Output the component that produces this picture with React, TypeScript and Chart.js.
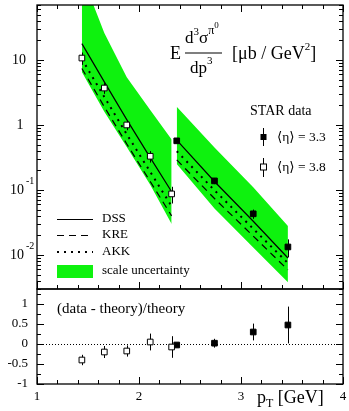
import React, { useEffect, useRef } from 'react';
import { Chart, registerables } from 'chart.js';

Chart.register(...registerables);

// ---------------- data ----------------
const pt38 = [1.44, 1.66, 1.88, 2.11, 2.32];
const pt33 = [2.37, 2.74, 3.12, 3.46];

const xsec38 = [10.7, 3.7, 1.0, 0.33, 0.087];
const xerr38 = [2.3, 0.69, 0.17, 0.066, 0.025];
const xsec33 = [0.57, 0.138, 0.043, 0.0133];
const xerr33 = [0.03, 0.015, 0.007, 0.0041];

const dss38 = [17.8, 4.6, 1.21, 0.314, 0.094];
const kre38 = [7.4, 1.9, 0.51, 0.135, 0.04];
const akk38 = [10.3, 2.7, 0.72, 0.19, 0.056];
const dss33 = [0.585, 0.135, 0.033, 0.009];
const kre33 = [0.29, 0.074, 0.0195, 0.0059];
const akk33 = [0.395, 0.099, 0.0253, 0.0075];

const bandHi38 = [200, 26, 5.4, 1.7, 0.6];
const bandLo38 = [6.5, 1.6, 0.46, 0.12, 0.03];
const bandHi33 = [1.9, 0.45, 0.11, 0.028];
const bandLo33 = [0.25, 0.052, 0.013, 0.0038];

const ratio38 = [-0.4, -0.2, -0.175, 0.05, -0.075];
const ratioErr38 = [0.13, 0.15, 0.14, 0.21, 0.27];
const ratio33 = [-0.025, 0.02, 0.3, 0.475];
const ratioErr33 = [0.05, 0.11, 0.21, 0.46];

const xTickValues = [1, 2, 3, 4];
const xTickLabels = ['1', '2', '3', '4'];
const yTopTickValues = [0.01, 0.1, 1, 10];
const yTopTickLabels = [['10', '-2'], ['10', '-1'], ['1', ''], ['10', '']];
const yRatioTickValues = [-1, -0.5, 0, 0.5, 1];
const yRatioTickLabels = ['-1', '-0.5', '0', '0.5', '1'];

const legendNames = ['DSS', 'KRE', 'AKK', 'scale uncertainty'];
const starLabels = ['\u27E8\u03B7\u27E9 = 3.3', '\u27E8\u03B7\u27E9 = 3.8'];

// ---------------- style ----------------
const W = 349;
const H = 411;
const SERIF = '"Liberation Serif", "DejaVu Serif", "Times New Roman", serif';
const GREEN = 'rgb(14,242,14)';
const DASH = [7, 5];
const DOT = [2, 5];

const pts = (xs: number[], ys: number[]) => xs.map((x, i) => ({ x, y: ys[i] }));

function font(px: number) {
  return `${px}px ${SERIF}`;
}

function drawErrorBars(chart: any, args: any) {
  const ds: any = chart.data.datasets[args.index];
  if (!ds.errors) return;
  const ctx = chart.ctx;
  const y = chart.scales.y;
  ctx.save();
  ctx.strokeStyle = '#000';
  ctx.lineWidth = 1;
  ds.data.forEach((p: any, i: number) => {
    const e = ds.errors[i];
    const el = args.meta.data[i];
    const px = Math.round(el.x) + 0.5;
    ctx.beginPath();
    ctx.moveTo(px, y.getPixelForValue(p.y + e));
    ctx.lineTo(px, y.getPixelForValue(p.y - e));
    ctx.stroke();
  });
  ctx.restore();
}

function tickLine(ctx: CanvasRenderingContext2D, x1: number, y1: number, x2: number, y2: number) {
  ctx.beginPath();
  ctx.moveTo(x1, y1);
  ctx.lineTo(x2, y2);
  ctx.stroke();
}

function drawXTicks(ctx: CanvasRenderingContext2D, chart: any, top: boolean) {
  const a = chart.chartArea;
  const x = chart.scales.x;
  for (let k = 0; k <= 15; k++) {
    const v = 1 + k * 0.2;
    const major = k % 5 === 0;
    const len = major ? 7 : 4;
    const px = Math.round(x.getPixelForValue(v)) + 0.5;
    tickLine(ctx, px, a.bottom, px, a.bottom - len);
    if (top) tickLine(ctx, px, a.top, px, a.top + len);
  }
}

function drawFrame(ctx: CanvasRenderingContext2D, chart: any) {
  const a = chart.chartArea;
  ctx.lineWidth = 1.3;
  ctx.strokeRect(a.left, a.top, a.right - a.left, a.bottom - a.top);
  ctx.lineWidth = 1;
}

function textSeq(ctx: CanvasRenderingContext2D, x: number, y: number, parts: [string, number, number][]) {
  let cx = x;
  for (const [t, size, dy] of parts) {
    ctx.font = font(size);
    ctx.fillText(t, cx, y + dy);
    cx += ctx.measureText(t).width;
  }
  return cx;
}

const topDecor = {
  id: 'topDecor',
  beforeDatasetDraw: drawErrorBars,
  afterDraw(chart: any) {
    const ctx: CanvasRenderingContext2D = chart.ctx;
    const a = chart.chartArea;
    const y = chart.scales.y;
    ctx.save();
    ctx.strokeStyle = '#000';
    ctx.fillStyle = '#000';
    drawFrame(ctx, chart);
    drawXTicks(ctx, chart, true);
    // log y ticks
    for (let d = -3; d <= 1; d++) {
      for (let m = 1; m <= 9; m++) {
        const v = m * Math.pow(10, d);
        if (v < y.min || v > y.max) continue;
        const py = Math.round(y.getPixelForValue(v)) + 0.5;
        const len = m === 1 ? 7 : 4;
        tickLine(ctx, a.left, py, a.left + len, py);
        tickLine(ctx, a.right, py, a.right - len, py);
      }
    }
    // y tick labels
    ctx.textBaseline = 'middle';
    yTopTickValues.forEach((v, i) => {
      const [base, exp] = yTopTickLabels[i];
      const py = y.getPixelForValue(v);
      ctx.font = font(14);
      if (exp) {
        ctx.textAlign = 'left';
        ctx.fillText(base, 10, py);
        ctx.font = font(10);
        ctx.fillText(exp, 26, py - 9);
      } else {
        ctx.textAlign = 'center';
        ctx.fillText(base, base === '1' ? 20 : 19, py);
      }
    });

    // title
    ctx.textAlign = 'left';
    ctx.textBaseline = 'alphabetic';
    ctx.font = font(18);
    ctx.fillText('E', 170, 59);
    textSeq(ctx, 185, 43, [
      ['d', 17, 0],
      ['3', 11, -8],
      ['\u03C3', 17, 0],
      ['\u03C0', 12, -9],
      ['0', 9, -15],
    ]);
    ctx.fillRect(185, 52.5, 37, 1);
    textSeq(ctx, 190, 73, [
      ['dp', 17, 0],
      ['3', 11, -9],
    ]);
    textSeq(ctx, 232, 59, [
      ['[\u03BCb / GeV', 18, 0],
      ['2', 11, -9],
      [']', 18, 0],
    ]);

    // STAR data legend
    ctx.font = font(14);
    ctx.fillText('STAR data', 250, 115);
    ctx.textBaseline = 'middle';
    ctx.font = font(13.5);
    ctx.fillText(starLabels[0], 277, 137);
    ctx.fillText(starLabels[1], 277, 167);
    ctx.lineWidth = 1;
    tickLine(ctx, 263.5, 128, 263.5, 146);
    ctx.fillRect(260.5, 134, 6, 6);
    tickLine(ctx, 263.5, 158, 263.5, 177);
    ctx.fillStyle = '#fff';
    ctx.fillRect(260.5, 164, 6, 6);
    ctx.strokeRect(260.5, 164, 6, 6);
    ctx.fillStyle = '#000';

    // theory legend
    const lx1 = 57, lx2 = 93;
    ctx.lineWidth = 1.2;
    tickLine(ctx, lx1, 219.5, lx2, 219.5);
    ctx.setLineDash(DASH);
    tickLine(ctx, lx1, 235.5, lx2, 235.5);
    ctx.setLineDash(DOT);
    ctx.lineWidth = 2;
    tickLine(ctx, lx1, 252, lx2, 252);
    ctx.setLineDash([]);
    ctx.fillStyle = GREEN;
    ctx.fillRect(lx1, 265, lx2 - lx1, 13);
    ctx.fillStyle = '#000';
    ctx.font = font(13);
    ctx.fillText(legendNames[0], 102, 219);
    ctx.fillText(legendNames[1], 102, 235);
    ctx.fillText(legendNames[2], 102, 252);
    ctx.fillText(legendNames[3], 102, 271);
    ctx.restore();
  },
};

const bottomDecor = {
  id: 'bottomDecor',
  beforeDatasetDraw: drawErrorBars,
  beforeDatasetsDraw(chart: any) {
    const ctx: CanvasRenderingContext2D = chart.ctx;
    const a = chart.chartArea;
    const py = Math.round(chart.scales.y.getPixelForValue(0)) + 0.5;
    ctx.save();
    ctx.strokeStyle = '#000';
    ctx.lineWidth = 1;
    ctx.setLineDash([1, 2]);
    tickLine(ctx, a.left, py, a.right, py);
    ctx.restore();
  },
  afterDraw(chart: any) {
    const ctx: CanvasRenderingContext2D = chart.ctx;
    const a = chart.chartArea;
    const x = chart.scales.x;
    const y = chart.scales.y;
    ctx.save();
    ctx.strokeStyle = '#000';
    ctx.fillStyle = '#000';
    drawFrame(ctx, chart);
    drawXTicks(ctx, chart, false);
    for (let k = -4; k <= 5; k++) {
      const v = k * 0.25;
      const py = Math.round(y.getPixelForValue(v)) + 0.5;
      const len = k % 2 === 0 ? 7 : 4;
      tickLine(ctx, a.left, py, a.left + len, py);
      tickLine(ctx, a.right, py, a.right - len, py);
    }
    ctx.textBaseline = 'middle';
    ctx.textAlign = 'right';
    ctx.font = font(13);
    yRatioTickValues.forEach((v, i) => {
      ctx.fillText(yRatioTickLabels[i], 28, y.getPixelForValue(v));
    });
    ctx.textAlign = 'center';
    xTickValues.forEach((v, i) => {
      ctx.fillText(xTickLabels[i], x.getPixelForValue(v), 397);
    });
    ctx.textAlign = 'left';
    ctx.font = font(15);
    ctx.fillText('(data - theory)/theory', 57, 309);
    ctx.textBaseline = 'alphabetic';
    textSeq(ctx, 257, 403, [
      ['p', 18, 0],
      ['T', 12, 4],
      [' [GeV]', 18, 0],
    ]);
    ctx.restore();
  },
};

const lineDs = (data: any[], dash: number[], width: number) => ({
  data,
  borderColor: '#000',
  borderWidth: width,
  borderDash: dash,
  pointRadius: 0,
  fill: false,
  order: 5,
});

const bandDs = (data: any[], fillNext: boolean) => ({
  data,
  borderWidth: 0,
  borderColor: 'rgba(0,0,0,0)',
  backgroundColor: GREEN,
  pointRadius: 0,
  fill: fillNext ? '+1' : false,
  order: 10,
});

const markerDs = (data: any[], open: boolean, errors: number[]) => ({
  data,
  errors,
  showLine: false,
  pointStyle: 'rect',
  pointRadius: 4,
  pointBorderWidth: 1,
  pointBorderColor: '#000',
  pointBackgroundColor: open ? '#fff' : '#000',
  order: 1,
});

export default function App() {
  const topRef = useRef<HTMLCanvasElement>(null);
  const botRef = useRef<HTMLCanvasElement>(null);

  useEffect(() => {
    const common = {
      responsive: false,
      animation: false,
      events: [],
      plugins: { legend: { display: false }, tooltip: { enabled: false } },
      elements: { line: { tension: 0 } },
    };
    const top = new Chart(topRef.current!, {
      type: 'line',
      data: {
        datasets: [
          bandDs(pts(pt38, bandHi38), true),
          bandDs(pts(pt38, bandLo38), false),
          bandDs(pts(pt33, bandHi33), true),
          bandDs(pts(pt33, bandLo33), false),
          lineDs(pts(pt38, dss38), [], 1.2),
          lineDs(pts(pt33, dss33), [], 1.2),
          lineDs(pts(pt38, kre38), DASH, 1.2),
          lineDs(pts(pt33, kre33), DASH, 1.2),
          lineDs(pts(pt38, akk38), DOT, 2),
          lineDs(pts(pt33, akk33), DOT, 2),
          markerDs(pts(pt38, xsec38), true, xerr38),
          markerDs(pts(pt33, xsec33), false, xerr33),
        ] as any,
      },
      options: {
        ...common,
        layout: { padding: { left: 37, top: 5, right: 6, bottom: 122 } },
        scales: {
          x: { type: 'linear', min: 1, max: 4, display: false },
          y: { type: 'logarithmic', min: 0.003, max: 70, display: false },
        },
      } as any,
      plugins: [topDecor],
    });
    const bottom = new Chart(botRef.current!, {
      type: 'line',
      data: {
        datasets: [
          markerDs(pts(pt38, ratio38), true, ratioErr38),
          markerDs(pts(pt33, ratio33), false, ratioErr33),
        ] as any,
      },
      options: {
        ...common,
        layout: { padding: { left: 37, top: 289, right: 6, bottom: 27 } },
        scales: {
          x: { type: 'linear', min: 1, max: 4, display: false },
          y: { type: 'linear', min: -1, max: 1.375, display: false },
        },
      } as any,
      plugins: [bottomDecor],
    });
    return () => {
      top.destroy();
      bottom.destroy();
    };
  }, []);

  return (
    <div style={{ position: 'absolute', left: 0, top: 0, width: W, height: H, background: '#fff' }}>
      <canvas ref={topRef} width={W} height={H} style={{ position: 'absolute', left: 0, top: 0 }} />
      <canvas ref={botRef} width={W} height={H} style={{ position: 'absolute', left: 0, top: 0 }} />
    </div>
  );
}
